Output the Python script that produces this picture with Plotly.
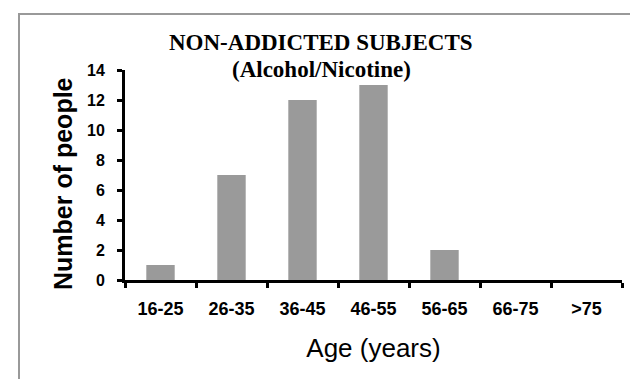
import plotly.graph_objects as go

categories = ["16-25", "26-35", "36-45", "46-55", "56-65", "66-75", ">75"]
counts = [1, 7, 12, 13, 2, 0, 0]
y_ticks = [0, 2, 4, 6, 8, 10, 12, 14]
title_line1 = "NON-ADDICTED SUBJECTS"
title_line2 = "(Alcohol/Nicotine)"
x_title = "Age (years)"
y_title = "Number of people"

W, H = 630, 379
L, R, T, B = 125, 8, 70, 99
pw, ph = W - L - R, H - T - B

def px_x(px):
    return (px - L) / pw

def px_y(py):
    return (H - B - py) / ph

fig = go.Figure(go.Bar(
    x=categories, y=counts, width=0.4,
    marker=dict(color="#9a9a9a", line=dict(width=0)),
    hoverinfo="skip",
))

fig.update_layout(
    width=W, height=H,
    margin=dict(l=L, r=R, t=T, b=B, autoexpand=False),
    paper_bgcolor="white", plot_bgcolor="white",
    showlegend=False,
    font=dict(family="Arial, Liberation Sans, sans-serif", color="black"),
    xaxis=dict(
        type="category", tickson="boundaries",
        showline=True, linecolor="black", linewidth=3,
        ticks="outside", ticklen=5, tickwidth=3, tickcolor="black",
        tickfont=dict(size=18, family="Arial, Liberation Sans", weight="bold"),
        ticklabelstandoff=10,
        showgrid=False, zeroline=False,
        title=dict(text=x_title, font=dict(size=26), standoff=22),
        automargin=False,
    ),
    yaxis=dict(
        range=[0, 14], tickvals=y_ticks,
        showline=True, linecolor="black", linewidth=3,
        ticks="outside", ticklen=5, tickwidth=3, tickcolor="black",
        tickfont=dict(size=16, family="Arial, Liberation Sans", weight="bold"),
        ticklabelstandoff=9,
        showgrid=False, zeroline=False,
        automargin=False,
    ),
)

# frame (top and left edges visible)
fig.add_shape(type="rect", xref="paper", yref="paper",
              x0=px_x(19), x1=px_x(660), y0=px_y(420), y1=px_y(14),
              line=dict(color="#999999", width=2), fillcolor="rgba(0,0,0,0)", layer="below")

fig.add_annotation(text=y_title, xref="paper", yref="paper",
                   x=px_x(63), y=px_y(184), xanchor="center", yanchor="middle",
                   textangle=-90, showarrow=False,
                   font=dict(size=25, weight="bold", color="black"))

for txt, cy in [(title_line1, 42.5), (title_line2, 69.5)]:
    fig.add_annotation(text=txt, xref="paper", yref="paper",
                       x=px_x(321), y=px_y(cy), xanchor="center", yanchor="middle",
                       showarrow=False, borderpad=0,
                       font=dict(family="Liberation Serif, Times New Roman, serif",
                                 size=23, weight="bold", color="black"))

fig.write_html("out.html", config={"displayModeBar": False},
               post_script="document.body.style.margin='0';")
